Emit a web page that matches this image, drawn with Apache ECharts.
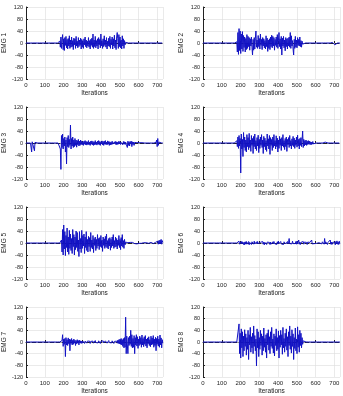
<!DOCTYPE html>
<html>
<head>
<meta charset="utf-8">
<script src="https://cdn.jsdelivr.net/npm/echarts@6/dist/echarts.min.js"></script>
<style>
  html, body { margin: 0; padding: 0; background: #fff; }
  #chart { width: 343px; height: 396px; }
</style>
</head>
<body>
<div id="chart"></div>
<script>
// one sample every STEP iterations
const STEP = 3;
const yTicks = [-120, -80, -40, 0, 40, 80, 120];
const xTicks = [0, 100, 200, 300, 400, 500, 600, 700];
const panelNames = ['EMG 1', 'EMG 2', 'EMG 3', 'EMG 4', 'EMG 5', 'EMG 6', 'EMG 7', 'EMG 8'];

const emg1 = [
  0,0,0,0,0,0,0,0,0,0, 0,0,0,0,0,0,0,0,0,0, 0,0,0,0,0,0,0,0,0,0,
  0,0,0,0,0,0,0,0,0,0, 0,0,0,0,0,0,0,0,0,0, 0,0,0,0,0,0,0,0,0,0,
  6,-14,20,-18,10,28,-22,14,-25,18, -8,22,-16,12,-20,15,-10,24,-18,10,
  -14,20,-12,8,-22,16,-6,14,-18,22, -10,6,-16,18,-12,10,-8,16,-20,12,
  -14,8,-18,14,-6,20,-12,10,-16,6, -10,18,-14,8,-20,12,-8,16,-14,30,
  -18,10,-12,22,-16,8,-10,14,-20,18, -6,12,-16,30,-10,8,-18,14,-12,24,
  -8,10,-14,18,-20,6,-10,16,-12,22, -18,12,-6,20,-20,14,-10,26,-16,10,
  -22,20,35,14,-18,28,-12,20,-16,10, -20,24,-10,14,-18,8,-6,2,
  0,0,0,0,0,0,0,0,0,0, 0,0,0,0,0,0,0,0,0,0, 0,0,0,0,0,0,0,0,0,0,
  0,0,0,0,0,0,0,0,0,0, 0,0,0,0,0,0,0,0,0,0, 0,0,0,0,0,0,0,0,0,0,
  0,0,0,0,0,0
];
const emg2 = [
  0,0,0,0,0,0,0,0,0,0, 0,0,0,0,0,0,0,0,0,0, 0,0,0,0,0,0,0,0,0,0,
  0,0,0,0,0,0,0,-3,0,0, 0,0,0,0,0,0,0,0,0,0, 0,0,0,0,0,0,0,0,0,0,
  4,-30,35,-38,48,-25,40,-35,30,-20, 38,-28,25,-15,20,-30,15,-22,28,-18,
  22,-12,18,-24,14,-10,20,-16,-40,12, -24,18,-20,16,40,-14,10,-18,25,-12,
  15,-20,30,-8,12,-22,18,-10,14,-16, 8,-20,24,-12,16,-28,10,-18,14,-22,
  20,-12,26,-16,22,-10,18,-24,12,-8, 20,-14,28,-18,10,35,-12,14,-20,22,
  -40,16,-10,22,-16,10,-26,18,-12,14, -20,16,-10,20,-14,35,-18,24,-10,8,
  -20,-40,12,-18,22,-14,10,-16,18,-8, 12,-10,20,-12,8,-14,6,-4,0,
  0,0,0,0,0,0,0,0,0,0, 0,0,0,0,0,0,0,0,0,0, 0,0,0,0,0,0,0,0,0,0,
  0,0,0,0,0,0,0,0,0,0, 0,0,0,0,0,0,0,0,0,0, 0,
  2,4,-2,3,-6,-12,-4, 0,0,0,0,0,0,0
];
const emg3 = [
  0,0,0,0,0,0,0,0,0,0, -30,4,0,0,0,-26,2,0,0,0, 0,0,0,0,0,0,0,0,0,0,
  0,0,0,0,0,0,0,0,0,0, 0,0,0,0,0,0,0,0,0,0, 0,0,0,0,0,0,0,0,0,0,
  5,-20,-88,25,-15,30,-20,15,-10,20, -30,10,-70,18,-12,25,-15,12,-8,60,
  -20,15,-10,20,-15,10,-12,15,-8,10, -14,8,-6,12,-10,6,-8,10,-5,6,
  -6,4,-8,6,-4,8,-6,5,-7,4, -5,8,-6,3,-8,6,-4,7,-6,5,
  -8,4,-6,8,-5,3,-7,6,-4,8, -6,5,-8,4,-3,7,-6,5,-8,6,
  -4,8,-5,3,-6,7,-4,5,-8,4, -6,3,-5,6,-4,2,-6,4,-3,5,
  -6,4,-5,3,-4,6,-3,4,-5,2, -4,3,-6,5,-3,4,-5,3,-4,2,
  -15,6,-8,4,-10,5,-3,6,-12,4, -5,3,-8,2,-4,3,-2,1,-3,2,
  -2,1,0,1,-1,0,1,-1,0,0, 0,0,0,0,0,0,0,0,0,0, 0,0,0,0,0,0,0,0,0,0,
  0,2,10,-12,15,-8,3,0,0,0, 0,0,0,0
];
const emg4 = [
  0,0,0,0,0,0,0,0,0,0, 0,0,0,0,0,0,0,0,0,0, 0,0,0,0,0,0,0,0,0,0,
  0,0,0,0,0,0,0,0,0,0, 0,0,0,0,0,0,0,0,0,0, 0,0,0,0,0,0,0,0,0,0,
  8,-12,20,-18,25,-10,15,-100,30,-20, 12,-45,35,-15,20,-25,10,-30,28,-12,
  18,-22,32,-15,10,-28,25,-8,15,-35, 22,-12,30,-20,8,-25,18,-10,26,-32,
  12,-18,20,-8,28,-15,10,-35,22,-12, 16,-22,8,-28,30,-10,14,-20,25,-38,
  18,-8,12,-25,20,-15,28,-10,8,-20, 24,-12,16,-30,10,-18,22,-8,14,-25,
  18,-10,28,-14,8,-22,15,-12,20,-28, 12,-6,18,-15,25,-10,8,-20,14,-8,
  22,-12,16,-18,10,-8,20,-14,26,-10, 12,-20,15,-8,18,-12,10,40,-15,12,
  -10,8,-6,10,-8,6,-5,8,-4,6, -5,4,-6,3,-4,5,-3,2,-2,1,
  0,0,0,0,0,0,0,0,0,0, 0,0,0,0,0,0,-4,3,0,0,
  0,0,0,0,0,0,0,0,0,0, 0,0,0,0,0,0,0,0,0,0, 0,0,0,0
];
const emg5 = [
  0,0,0,0,0,0,0,0,0,0, 0,0,0,0,0,0,0,0,0,0, 0,0,0,0,0,0,0,0,0,0,
  0,0,0,0,0,0,0,0,0,0, 0,0,0,0,0,0,0,0,0,0, 0,0,0,0,0,0,0,0,0,0,
  0,0,0,10,-30,45,-40,60,-20,38,
  -42,25,-15,50,-30,20,-38,42,-18,30, -25,15,-35,45,-12,28,-40,20,-22,40,
  -15,35,-28,10,-45,38,-20,15,-32,42, -18,25,-10,30,-35,20,-15,38,-25,12,
  -30,22,-12,18,-28,35,-15,10,-20,25, -32,15,-8,20,-25,12,-18,28,-10,15,
  -22,18,-12,25,-15,10,-28,20,-8,14, -18,22,-12,30,-16,8,-20,15,-10,18,
  -24,12,-15,20,-10,28,-18,8,-14,20, -12,15,-20,10,-8,25,-15,12,-22,18,
  -10,28,-14,8,-18,12,-6,3, 0,2,-3,1,-2,3,-1,2,-3,1,0,2,
  -2,1,3,-2,1,-1,2,-3,1,0, 2,-1,1,-2,3,-1,0,2,-2,1,
  -1,2,-3,1,0,-2,1,2,-1,0, 1,-2,2,0,-1,3,-2,1,0,-1,
  2,-3,4,-2,6,-4,8,-3,10,-2, 12,-4,8,2
];
const emg6 = [
  0,0,0,0,0,0,0,0,0,0, 0,0,0,0,0,0,0,0,0,0, 0,0,0,0,0,0,0,0,0,0,
  0,0,0,0,0,0,0,0,0,0, 0,0,0,0,0,0,0,0,0,0, 0,0,0,0,0,0,0,0,0,0,
  0,0,3,-5,6,-4,2,-6,5,-3,
  4,-2,-5,3,-6,4,-3,5,-4,2, -3,5,-6,2,-4,3,-5,4,-2,3,
  -4,6,-3,2,-5,4,-3,5,-2,-4, 3,-5,2,-3,4,-2,5,-4,3,-6,
  2,-3,4,-5,3,-2,4,-3,2,-5, 3,-4,2,-6,4,-3,5,-2,3,-4,
  2,-5,4,-3,6,-2,3,-4,5,-3, 2,-4,3,-5,4,-2,6,-3,2,-4,
  5,-3,4,15,-2,3,-5,4,-3,6, -2,4,-5,3,-2,5,-4,6,-3,2,
  10,-4,3,-5,2,-3,4,-2,5,-4, 3,-2,4,-3,2,-5,3,-2,4,-3,
  2,-4,3,10,-3,2,-1,1,-2,1, 0,1,-1,0,1,-2,1,0,-1,1,
  2,-3,4,-2,5,-4,15,-3,4,-2, 3,-5,2,-3,4,-2,10,-4,3,-5,
  2,-3,6,-4,3,-6,5,-2,7,-4, 3,-5,6,-2
];
const emg7 = [
  0,0,0,0,0,0,0,0,0,0, 0,0,0,0,0,0,0,0,0,0, 0,0,0,0,0,0,0,0,0,0,
  0,0,0,0,0,0,0,0,0,0, 0,0,0,0,0,0,0,0,0,0, 0,0,0,0,0,0,0,0,0,0,
  0,0,0,0,5,25,-15,10,-8,12,
  -50,15,-10,8,-12,14,-6,10,-30,8, -5,12,-10,6,-8,10,-4,6,-12,5,
  -6,8,-4,5,-10,6,-3,4,-5,3, -4,3,-2,4,-5,3,-3,2,-4,3,
  -3,4,-2,3,-5,2,-3,4,-2,3, -4,2,-3,5,-2,3,-4,2,-3,4,
  -2,3,-5,2,-4,3,-2,4,-3,2, -3,4,-2,3,-4,2,-3,5,-2,3,
  -4,2,-3,4,-2,3,-5,2,-3,4, -2,3,-4,6,-5,8,-6,10,-8,12,
  -10,8,-15,12,-20,15,-18,85,-40,20, -10,-40,15,-12,20,-8,40,-15,25,-20,
  12,-18,22,-40,15,-10,25,-14,18,-22, 10,-12,20,-8,15,-18,24,-10,12,-16,
  18,-8,22,-14,10,-20,14,-6,18,-12, 8,-16,20,-10,14,-8,22,-18,10,-12,
  16,-30,12,-8,20,-14,10,-18,24,-10, 14,-20,8,-4
];
const emg8 = [
  0,0,0,0,0,0,0,0,0,0, 0,0,0,0,0,0,0,0,0,0, 0,0,0,0,0,0,0,0,0,0,
  0,0,0,0,0,0,0,0,0,0, 0,0,0,0,0,0,0,0,0,0, 0,0,0,0,0,0,0,0,0,0,
  0,0,0,0,62,-40,30,-55,45,-20,
  35,-50,20,-30,42,-15,28,-45,15,-25, 40,-60,25,-10,50,-35,18,-20,30,-40,
  55,-15,22,-30,10,-82,45,-20,35,-50, 15,-25,40,-12,28,-45,20,-30,48,-18,
  12,-35,25,-55,30,-10,42,-28,18,-40, 35,-15,50,-22,10,-38,28,-48,20,-12,
  45,-30,15,-25,38,-55,22,-18,40,-10, 25,-42,50,-20,12,-35,30,-15,45,-28,
  18,-50,35,-12,55,-25,20,-38,42,-15, 28,-60,15,-22,48,-30,10,-40,52,-18,
  25,-35,40,-12,30,-20,15,-8,4,0,
  0,0,0,0,0,0,0,0,0,0, 0,0,0,0,0,0,0,0,0,0, 0,0,0,0,0,0,0,0,0,0,
  0,0,0,0,0,0,0,0,0,0, 0,0,0,0,0,0,0,0,0,0, 0,0,0,0,0,0,0,0,0,0,
  0,0,0,0
];
const panels = [emg1, emg2, emg3, emg4, emg5, emg6, emg7, emg8];

const chart = echarts.init(document.getElementById('chart'), null, { renderer: 'canvas' });

const font = 'Liberation Sans, Arial, sans-serif';
const grids = [], xAxes = [], yAxes = [], series = [];

panels.forEach((vals, i) => {
  const col = i % 2;
  const row = Math.floor(i / 2);
  grids.push({
    left: col ? 203 : 26,
    top: 7 + row * 100,
    width: 137,
    height: 72
  });
  xAxes.push({
    type: 'value',
    gridIndex: i,
    min: xTicks[0],
    max: 730,
    interval: 100,
    name: 'Iterations',
    nameLocation: 'middle',
    nameGap: 11,
    nameTextStyle: { fontSize: 6.5, color: '#222', fontFamily: font },
    axisLine: { lineStyle: { color: '#222', type: 'dashed', width: 1 } },
    axisTick: { inside: true, length: 2, lineStyle: { color: '#222' } },
    axisLabel: { fontSize: 6, margin: 3, color: '#222', fontFamily: font, showMaxLabel: false },
    splitLine: { show: true, lineStyle: { color: '#dcdcdc', width: 0.6 } }
  });
  yAxes.push({
    type: 'value',
    gridIndex: i,
    min: yTicks[0],
    max: yTicks[yTicks.length - 1],
    interval: 40,
    name: panelNames[i],
    nameLocation: 'middle',
    nameGap: 16,
    nameRotate: 90,
    nameTextStyle: { fontSize: 6.5, color: '#222', fontFamily: font },
    axisLine: { show: true, lineStyle: { color: '#222', width: 1 } },
    axisTick: { show: true, inside: true, length: 2, lineStyle: { color: '#222' } },
    axisLabel: { fontSize: 5.5, margin: 3, color: '#222', fontFamily: font },
    splitLine: { show: true, lineStyle: { color: '#dcdcdc', width: 0.6 } }
  });
  series.push({
    type: 'line',
    xAxisIndex: i,
    yAxisIndex: i,
    showSymbol: false,
    symbol: 'none',
    lineStyle: { color: '#1212c4', width: 1 },
    data: vals.map((v, k) => [k * STEP, v])
  });
});

chart.setOption({
  animation: false,
  backgroundColor: '#fff',
  grid: grids,
  xAxis: xAxes,
  yAxis: yAxes,
  series: series
});
</script>
</body>
</html>
